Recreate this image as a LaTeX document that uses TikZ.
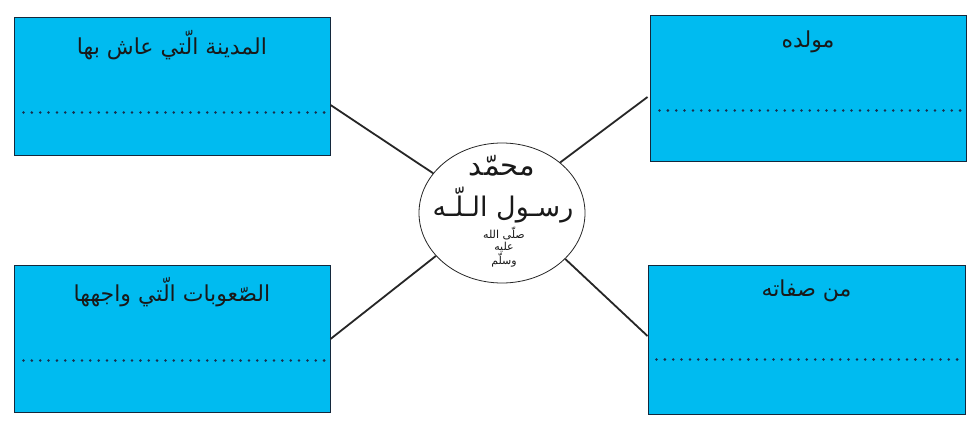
\documentclass[tikz,border=0pt]{standalone}
\usepackage{fontspec}
\newfontfamily\arabicfont[Script=Arabic]{DejaVu Sans}
\TeXXeTstate=1
\usetikzlibrary{shapes.geometric}
\definecolor{boxblue}{RGB}{0,187,240}
\definecolor{boxline}{RGB}{20,40,60}
\definecolor{dotcol}{RGB}{25,45,75}
\begin{document}
\begin{tikzpicture}[x=1pt,y=-1pt,
  infobox/.style={draw=boxline, line width=1pt, fill=boxblue, minimum width=316pt, inner sep=0pt},
  boxtitle/.style={font=\arabicfont\fontsize{22}{26}\selectfont, text=black!90, inner sep=0pt},
  dotline/.style={draw=dotcol, line width=2.8pt, line cap=round, dash pattern=on 0pt off 8.35pt},
  link/.style={line width=1.8pt, draw=black!85},
  centertext/.style={font=\arabicfont, text=black!90, inner sep=0pt}]
\useasboundingbox (0,0) rectangle (979,428);
\fill[white] (0,0) rectangle (979,428);
% boxes
\node[infobox, minimum height=137pt] (tl) at (172,86.5) {};
\node[infobox, minimum height=145pt] (tr) at (808,88.5) {};
\node[infobox, minimum height=147pt] (bl) at (172,338.5) {};
\node[infobox, minimum width=317pt, minimum height=149pt] (br) at (806.5,339.5) {};
% titles
\node[boxtitle] (tlt) at ([yshift=-28pt]tl.north) {\beginR المدينة الّتي عاش بها\endR};
\node[boxtitle] (trt) at ([yshift=-26pt]tr.north) {\beginR مولده\endR};
\node[boxtitle] (blt) at ([yshift=-28pt]bl.north) {\beginR الصّعوبات الّتي واجهها\endR};
\node[boxtitle] (brt) at ([yshift=-26pt]br.north) {\beginR من صفاته\endR};
% dotted answer lines
\draw[dotline] ([xshift=10pt,yshift=-95pt]tl.north west) -- ([xshift=-5pt,yshift=-95pt]tl.north east);
\draw[dotline] ([xshift=10pt,yshift=-95pt]tr.north west) -- ([xshift=-6pt,yshift=-95pt]tr.north east);
\draw[dotline] ([xshift=10pt,yshift=-96pt]bl.north west) -- ([xshift=-5pt,yshift=-96pt]bl.north east);
\draw[dotline] ([xshift=9pt,yshift=-95pt]br.north west) -- ([xshift=-7pt,yshift=-95pt]br.north east);
% centre
\node[ellipse, draw=black!85, line width=0.8pt, fill=white, minimum width=166pt, minimum height=140pt, inner sep=0pt] (c) at (502,213) {};
\node[centertext, font=\arabicfont\fontsize{29}{32}\selectfont] (name) at (502,166) {\beginR محمّد\endR};
\node[centertext, font=\arabicfont\fontsize{27}{32}\selectfont] (rasul) at (503,205) {\beginR رسـول الـلّـه\endR};
\node[centertext, align=center, font=\arabicfont\fontsize{11}{11.5}\selectfont] (pbuh) at (504,247) {\beginR صلّى الله\endR\\\beginR عليه\endR\\\beginR وسلّم\endR};
% connectors
\draw[link] ([yshift=-18.5pt]tl.east) -- (c.150);
\draw[link] ([xshift=-2pt,yshift=-8.5pt]tr.west) -- (c.41);
\draw[link] ([yshift=-0.5pt]bl.east) -- (c.213);
\draw[link] ([yshift=3.5pt]br.west) -- (c.324);
\end{tikzpicture}
\end{document}
